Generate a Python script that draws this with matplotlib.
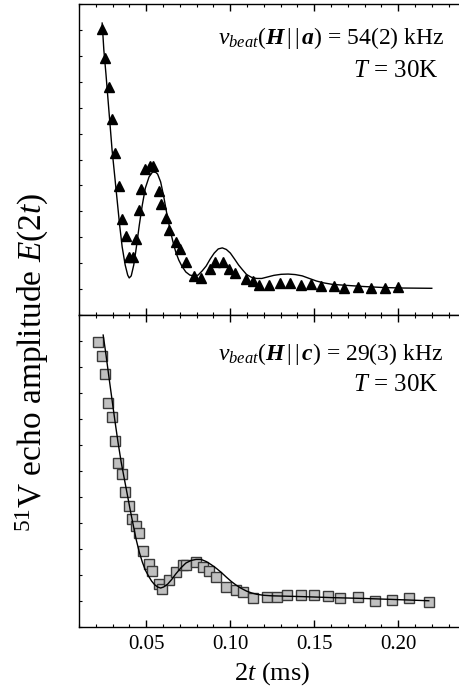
import matplotlib
matplotlib.use("Agg")
import matplotlib.pyplot as plt
from matplotlib.ticker import MultipleLocator, NullFormatter

plt.rcParams["font.family"] = "Liberation Serif"
plt.rcParams["mathtext.fontset"] = "custom"
plt.rcParams["mathtext.rm"] = "Liberation Serif"
plt.rcParams["mathtext.it"] = "Liberation Serif:italic"
plt.rcParams["mathtext.bf"] = "Liberation Serif:bold"
plt.rcParams["mathtext.bfit"] = "Liberation Serif:italic:bold"

# H || a : measured echo amplitude (triangles)
a_t = [0.0238, 0.0255, 0.0279, 0.0297, 0.0317, 0.0341, 0.0357, 0.0378, 0.0400, 0.0423,
       0.0438, 0.0456, 0.0471, 0.0495, 0.0523, 0.0542, 0.0574, 0.0589, 0.0617, 0.0633,
       0.0679, 0.0699, 0.0739, 0.0786, 0.0827, 0.0877, 0.0911, 0.0958, 0.0991, 0.1027,
       0.1092, 0.1134, 0.1170, 0.1232, 0.1295, 0.1357, 0.1422, 0.1479, 0.1538, 0.1620,
       0.1680, 0.1761, 0.1841, 0.1921, 0.2001]
a_amp = [1.103, 0.993, 0.881, 0.758, 0.624, 0.498, 0.369, 0.303, 0.225, 0.224,
         0.292, 0.404, 0.486, 0.562, 0.577, 0.575, 0.478, 0.429, 0.376, 0.329,
         0.281, 0.256, 0.203, 0.151, 0.142, 0.176, 0.206, 0.206, 0.176, 0.163,
         0.138, 0.132, 0.116, 0.116, 0.125, 0.125, 0.116, 0.120, 0.111, 0.111,
         0.103, 0.109, 0.103, 0.103, 0.109]

# H || a : fit curve
a_fit_t = [0.0238, 0.0248, 0.0261, 0.0273, 0.0285, 0.0297, 0.0312, 0.0327, 0.0342, 0.0357,
           0.0375, 0.0390, 0.0399, 0.0411, 0.0426, 0.0441, 0.0459, 0.0477, 0.0495, 0.0517,
           0.0538, 0.0556, 0.0568, 0.0586, 0.0604, 0.0622, 0.0640, 0.0658, 0.0676, 0.0694,
           0.0712, 0.0736, 0.0760, 0.0785, 0.0809, 0.0833, 0.0857, 0.0881, 0.0905, 0.0929,
           0.0953, 0.0977, 0.1001, 0.1026, 0.1050, 0.1074, 0.1098, 0.1128, 0.1158, 0.1188,
           0.1224, 0.1260, 0.1303, 0.1345, 0.1387, 0.1429, 0.1471, 0.1514, 0.1556, 0.1610,
           0.1700, 0.1791, 0.1911, 0.2032, 0.2200]
a_fit = [1.127, 1.023, 0.927, 0.830, 0.734, 0.637, 0.541, 0.444, 0.347, 0.263,
         0.193, 0.154, 0.143, 0.151, 0.193, 0.259, 0.347, 0.425, 0.490, 0.533,
         0.552, 0.551, 0.544, 0.514, 0.459, 0.394, 0.336, 0.286, 0.243, 0.212,
         0.189, 0.166, 0.154, 0.151, 0.154, 0.170, 0.189, 0.216, 0.239, 0.255,
         0.259, 0.253, 0.239, 0.216, 0.193, 0.174, 0.156, 0.145, 0.141, 0.141,
         0.147, 0.153, 0.157, 0.158, 0.156, 0.151, 0.141, 0.131, 0.124, 0.118,
         0.114, 0.110, 0.106, 0.104, 0.103]

# H || c : measured echo amplitude (squares)
c_t = [0.0214, 0.0235, 0.0256, 0.0274, 0.0295, 0.0313, 0.0335, 0.0356, 0.0375, 0.0395,
       0.0415, 0.0437, 0.0455, 0.0479, 0.0515, 0.0532, 0.0576, 0.0596, 0.0636, 0.0676,
       0.0717, 0.0739, 0.0797, 0.0837, 0.0875, 0.0917, 0.0977, 0.1033, 0.1078, 0.1138,
       0.1218, 0.1279, 0.1339, 0.1419, 0.1500, 0.1580, 0.1652, 0.1761, 0.1861, 0.1961,
       0.2062, 0.2182]
c_amp = [1.097, 1.042, 0.972, 0.863, 0.809, 0.717, 0.632, 0.588, 0.520, 0.465,
         0.415, 0.390, 0.360, 0.292, 0.242, 0.214, 0.167, 0.147, 0.182, 0.210,
         0.240, 0.237, 0.249, 0.230, 0.217, 0.193, 0.153, 0.142, 0.136, 0.110,
         0.115, 0.115, 0.123, 0.123, 0.123, 0.119, 0.110, 0.114, 0.101, 0.104,
         0.110, 0.097]

# H || c : fit curve
c_fit_t = [0.0244, 0.0261, 0.0279, 0.0297, 0.0315, 0.0333, 0.0351, 0.0369, 0.0387, 0.0405,
           0.0423, 0.0441, 0.0459, 0.0477, 0.0495, 0.0514, 0.0532, 0.0550, 0.0568, 0.0586,
           0.0604, 0.0628, 0.0652, 0.0676, 0.0706, 0.0736, 0.0767, 0.0797, 0.0827, 0.0857,
           0.0887, 0.0917, 0.0947, 0.0977, 0.1007, 0.1038, 0.1068, 0.1098, 0.1128, 0.1158,
           0.1200, 0.1248, 0.1309, 0.1429, 0.1610, 0.1791, 0.1971, 0.2182]
c_fit = [1.123, 1.046, 0.958, 0.873, 0.788, 0.708, 0.635, 0.573, 0.512, 0.450,
         0.392, 0.335, 0.288, 0.250, 0.219, 0.196, 0.177, 0.163, 0.154, 0.150,
         0.154, 0.165, 0.183, 0.204, 0.227, 0.246, 0.256, 0.260, 0.260, 0.252,
         0.240, 0.226, 0.210, 0.192, 0.175, 0.160, 0.148, 0.138, 0.131, 0.126,
         0.122, 0.120, 0.119, 0.117, 0.113, 0.110, 0.106, 0.101]

x_ticks = [0.05, 0.10, 0.15, 0.20]
x_ticklabels = ["0.05", "0.10", "0.15", "0.20"]

fig = plt.figure(figsize=(4.6, 6.97), dpi=100)
ax_a = fig.add_axes([0.1717, 0.5481, 0.84, 0.4459])
ax_c = fig.add_axes([0.1717, 0.1004, 0.84, 0.4476])

for ax in (ax_a, ax_c):
    ax.set_xlim(0.01, 0.24)
    ax.set_ylim(0, 1.2)
    ax.spines["right"].set_visible(False)
    for s in ("left", "top", "bottom"):
        ax.spines[s].set_linewidth(1.0)
    ax.xaxis.set_major_locator(MultipleLocator(0.05))
    ax.xaxis.set_minor_locator(MultipleLocator(0.01))
    ax.yaxis.set_major_locator(MultipleLocator(0.1))
    ax.yaxis.set_major_formatter(NullFormatter())
    ax.tick_params(axis="x", which="major", direction="in", top=True, bottom=True,
                   length=5, width=1.0, labelsize=15, pad=6)
    ax.tick_params(axis="x", which="minor", direction="in", top=True, bottom=True,
                   length=2.5, width=0.8)
    ax.tick_params(axis="y", which="major", direction="in", left=True, right=False,
                   length=2.2, width=0.8)

ax_a.set_xticks(x_ticks)
ax_a.set_xticklabels([])
ax_c.set_xticks(x_ticks)
ax_c.set_xticklabels(x_ticklabels)

ax_a.plot(a_t, a_amp, linestyle="none", marker="^", markersize=7.5,
          color="black", zorder=2, clip_on=False)
ax_a.plot(a_fit_t, a_fit, color="black", linewidth=1.0, zorder=3)

ax_c.plot(c_t, c_amp, linestyle="none", marker="s", markersize=6.5,
          markerfacecolor="#c0c0c0", markeredgecolor="#3a3a3a",
          markeredgewidth=1.0, zorder=2)
ax_c.plot(c_fit_t, c_fit, color="black", linewidth=1.0, zorder=3)

ax_a.text(0.946, 0.872, r"$\nu_{beat}(\mathbfit{H}\,|\,|\,\mathbfit{a})$ = 54(2) kHz",
          transform=ax_a.transAxes, ha="right", va="baseline", fontsize=17)
ax_a.text(0.931, 0.765, r"$T$ = 30K",
          transform=ax_a.transAxes, ha="right", va="baseline", fontsize=18)
ax_c.text(0.943, 0.857, r"$\nu_{beat}(\mathbfit{H}\,|\,|\,\mathbfit{c})$ = 29(3) kHz",
          transform=ax_c.transAxes, ha="right", va="baseline", fontsize=17)
ax_c.text(0.931, 0.758, r"$T$ = 30K",
          transform=ax_c.transAxes, ha="right", va="baseline", fontsize=18)

ax_c.set_xlabel(r"2$t$ (ms)", fontsize=19, labelpad=4)
fig.text(0.071, 1 - 362 / 697, r"$^{51}$V echo amplitude $E$(2$t$)",
         rotation=90, ha="center", va="center", fontsize=24)

fig.savefig("out.png", dpi=100)
